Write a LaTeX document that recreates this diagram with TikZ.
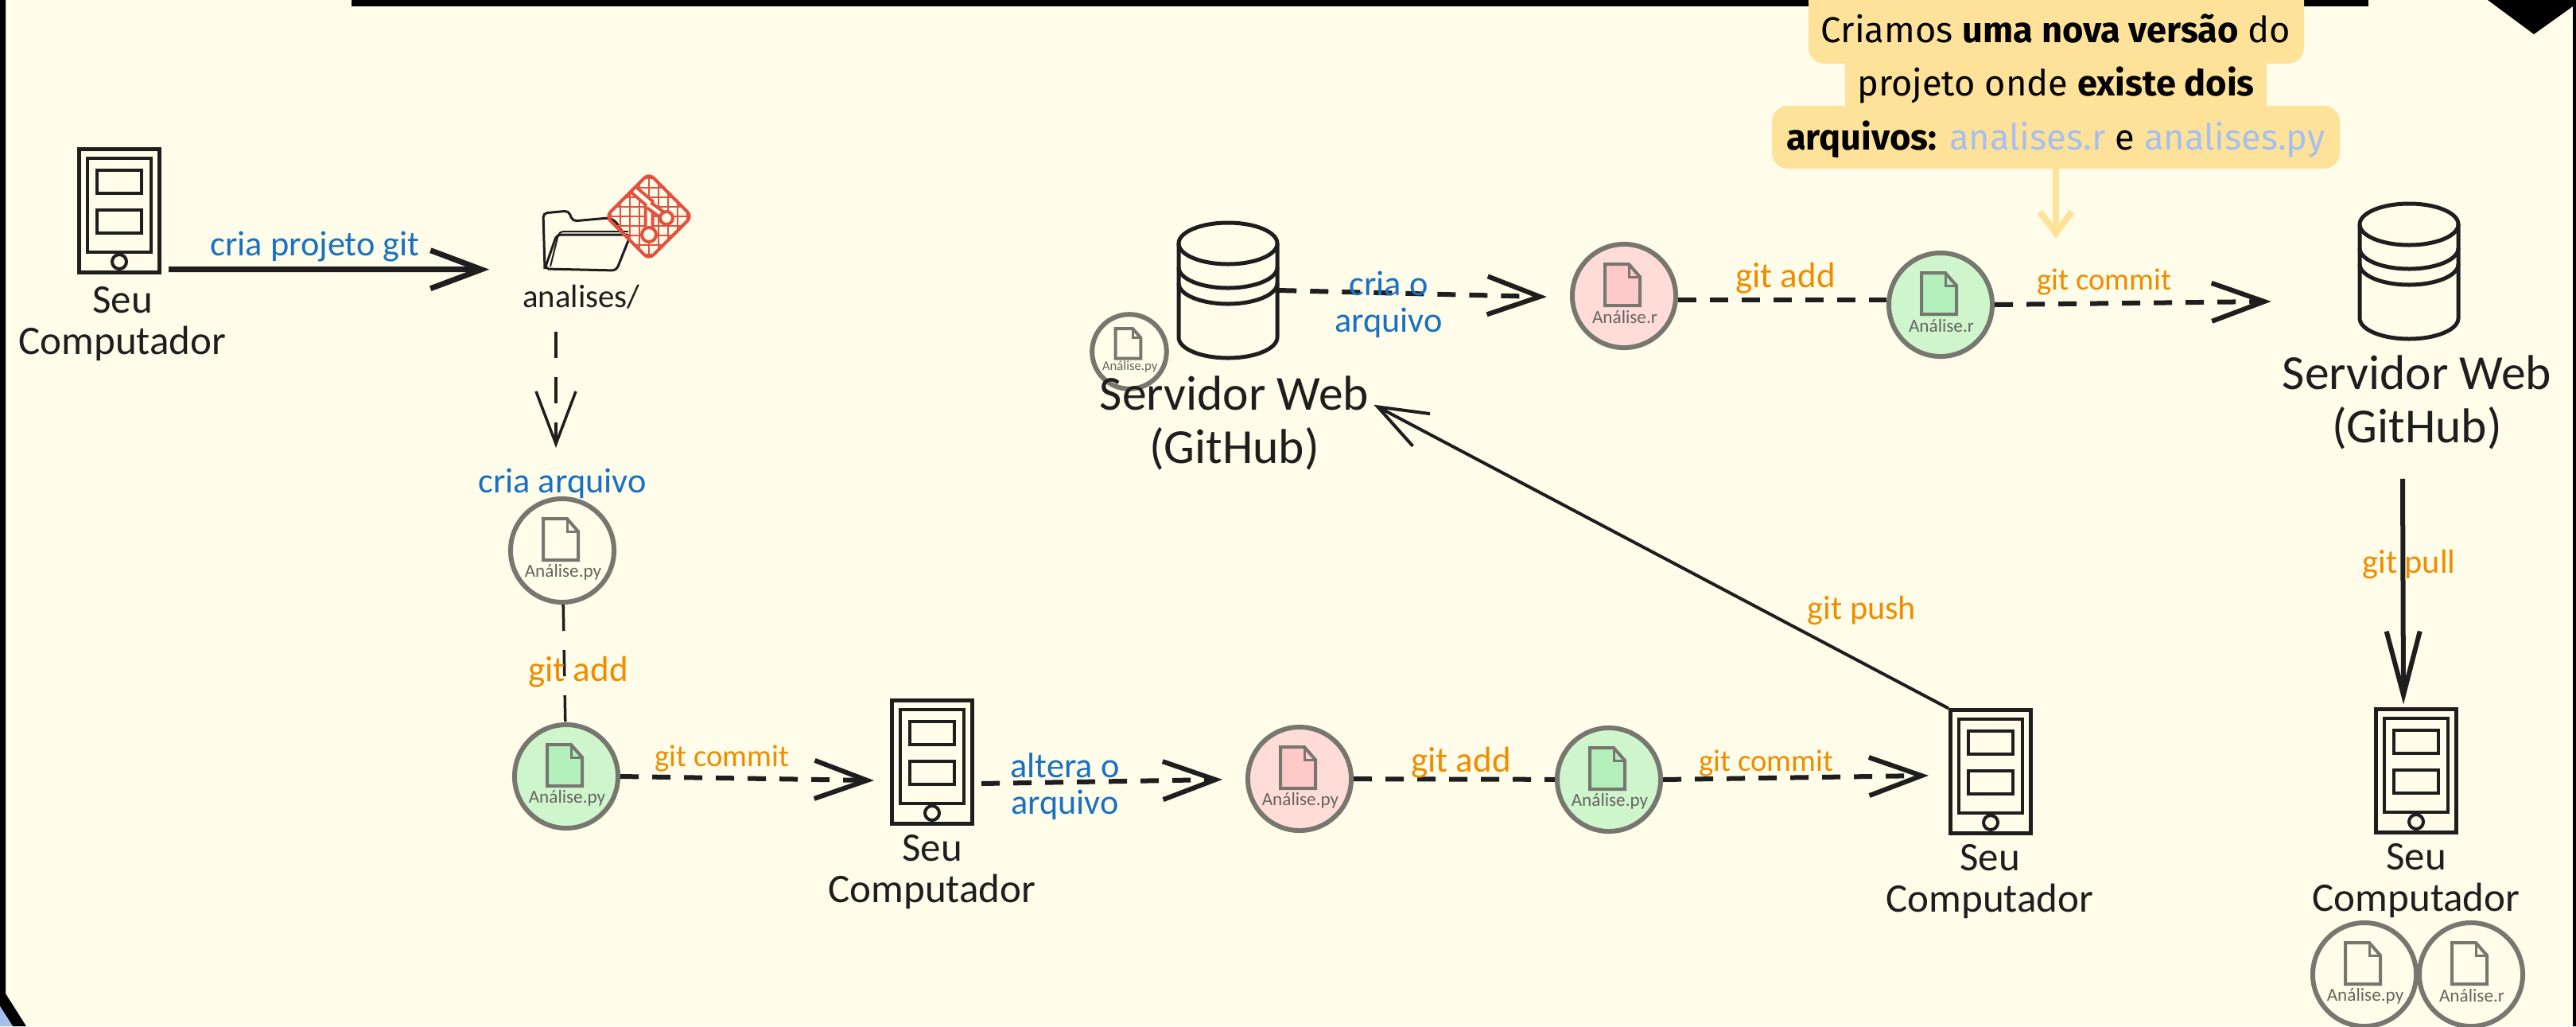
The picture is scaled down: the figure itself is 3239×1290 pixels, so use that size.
\documentclass[tikz,border=0pt]{standalone}
\usepackage{fontspec}
\setmainfont{Carlito}
\newfontfamily\notefont{Fira Sans}
\usepackage{tikz}
\usetikzlibrary{arrows.meta,calc}
\definecolor{paperbg}{HTML}{FFFDE9}
\definecolor{inkblack}{HTML}{1E1E1E}
\definecolor{badgegrey}{HTML}{777770}
\definecolor{labelblue}{HTML}{1971C2}
\definecolor{labelorange}{HTML}{F08C00}
\definecolor{notebg}{HTML}{FFE299}
\definecolor{noteblue}{HTML}{A5C0EE}
\definecolor{gitred}{HTML}{E0513F}
\definecolor{greenback}{HTML}{CFF5CD}
\definecolor{greenicon}{HTML}{B4F0BC}
\definecolor{redback}{HTML}{FFDCD8}
\definecolor{redicon}{HTML}{FFC9C9}
\tikzset{
   handtext/.style={text=inkblack,align=center,inner sep=0pt,font=\fontsize{14.5}{15}\selectfont},
   bigtext/.style={text=inkblack,align=center,inner sep=0pt,font=\fontsize{17.5}{19}\selectfont},
   smalltext/.style={text=inkblack,inner sep=0pt,font=\fontsize{11.6}{12}\selectfont},
   bluetext/.style={text=labelblue,align=center,inner sep=0pt,font=\fontsize{12.6}{13}\selectfont},
   orangetext/.style={text=labelorange,inner sep=0pt,font=\fontsize{#1}{12}\selectfont},
   solidlink/.style={draw=inkblack,line width=0.07cm,shorten >=-0.06cm,-{Straight Barb[length=0.64cm,width=0.48cm]}},
   dashlink/.style={draw=inkblack,line width=0.06cm,dash pattern=on 0.23cm off 0.17cm,shorten >=-0.06cm,-{Straight Barb[length=0.66cm,width=0.48cm]}},
   dashplain/.style={draw=inkblack,line width=0.06cm,dash pattern=on 0.23cm off 0.17cm},
   thindash/.style={draw=inkblack,line width=0.035cm,dash pattern=on 0.33cm off 0.24cm},
   pics/device/.style={code={
      \node[draw=inkblack,line width=0.05cm,minimum width=1.01cm,minimum height=1.54cm,inner sep=0pt] (-body) at (0,0) {};
      \draw[inkblack,line width=0.04cm] (-40,-66) rectangle (40,52);
      \draw[inkblack,line width=0.04cm] (-28,-51) rectangle (28,-22);
      \draw[inkblack,line width=0.04cm] (-28,-1) rectangle (28,28);
      \draw[inkblack,line width=0.04cm] (0,64) circle (9);
   }},
   pics/server/.style={code={
      \node[minimum width=1.25cm,minimum height=1.7cm,inner sep=0pt] (-body) at (0,0) {};
      \draw[inkblack,line width=0.05cm] (0,-59) ellipse (62 and 26);
      \draw[inkblack,line width=0.05cm] (-62,-59) -- (-62,59) arc (180:0:62 and 26) -- (62,-59);
      \draw[inkblack,line width=0.05cm] (-62,-29) arc (180:0:62 and 26);
      \draw[inkblack,line width=0.05cm] (-62,-9) arc (180:0:62 and 26);
   }},
   pics/filebadge/.style n args={3}{code={
      \node[circle,draw=badgegrey,fill=#1,line width=0.06cm,minimum size=1.3cm,inner sep=0pt] (-ring) at (0,0) {};
      \draw[badgegrey,fill=#2,line width=0.04cm] (-24,-40) -- (6,-40) -- (20,-24) -- (20,12) -- (-24,12) -- cycle;
      \draw[badgegrey,line width=0.03cm] (6,-40) -- (6,-24) -- (20,-24);
      \node[transform shape,text=badgegrey!85!black,inner sep=0pt,font=\fontsize{6.6}{7}\selectfont] (-name) at (1,27) {#3};
   }}
}
\begin{document}
\begin{tikzpicture}[x=0.01cm,y=-0.01cm]
   \useasboundingbox (0,0) rectangle (3239,1290);
   \fill[paperbg] (0,0) rectangle (3239,1290);
   \fill[black] (442,0) rectangle (2978,8);
   \fill[black] (0,0) -- (7,0) -- (7,1249) -- (33,1290) -- (16,1290) -- (0,1265) -- cycle;
   \fill[noteblue] (0,1265) -- (16,1290) -- (0,1290) -- cycle;
   \fill[black] (3128,0) -- (3186,43) -- (3235,8) -- (3235,1290) -- (3239,1290) -- (3239,0) -- cycle;

   \fill[notebg,rounded corners=0.2cm] (2274,-20) rectangle (2897,80);
   \fill[notebg] (2320,70) rectangle (2850,145);
   \fill[notebg,rounded corners=0.2cm] (2228,133) rectangle (2942,212);
   \node[align=center,inner sep=0pt,font=\notefont\fontsize{12.85}{19.3}\selectfont] (note) at (2585,108)
      {Criamos \textbf{uma nova versão} do\\projeto onde \textbf{existe dois}\\\textbf{arquivos:} \textcolor{noteblue}{analises.r} e \textcolor{noteblue}{analises.py}};

   \pic (pcA) at (150,265) {device};
   \pic (pcB) at (1172,958) {device};
   \pic (pcC) at (2503,970) {device};
   \pic (pcD) at (3038,969) {device};
   \node[handtext] (pcAtext) at (154,407) {Seu\\Computador};
   \node[handtext] (pcBtext) at (1172,1096) {Seu\\Computador};
   \node[handtext] (pcCtext) at (2502,1108) {Seu\\Computador};
   \node[handtext] (pcDtext) at (3038,1107) {Seu\\Computador};

   \node[minimum width=1.12cm,minimum height=0.78cm,inner sep=0pt] (folder) at (738,302) {};
   \draw[inkblack,line width=0.03cm,rounded corners=0.05cm] (685,338) -- (683,268) -- (715,265) -- (720,278) -- (765,274) -- (773,277) -- (783,292);
   \draw[inkblack,line width=0.03cm,rounded corners=0.05cm] (685,338) -- (700,295) -- (793,295) -- (775,340) -- cycle;
   \draw[inkblack,line width=0.02cm,rounded corners=0.05cm] (692,335) -- (703,291) -- (790,291);
   \node[smalltext] (foldertext) at (731,373) {analises/};
   \begin{scope}
      \clip[rounded corners=0.08cm] (816,218) -- (870,272) -- (816,326) -- (762,272) -- cycle;
      \foreach \k in {-48,-36,...,48} {
         \draw[gitred,line width=0.02cm] (816+\k,210) -- (816+\k,330);
         \draw[gitred,line width=0.02cm] (755,272+\k) -- (875,272+\k);
      }
      \draw[gitred,line width=0.04cm,double=paperbg,double distance=0.05cm] (795,237) -- (816,255) -- (816,295);
      \draw[gitred,line width=0.04cm,double=paperbg,double distance=0.04cm] (816,258) -- (838,274);
      \fill[paperbg,draw=gitred,line width=0.04cm] (816,295) circle (9);
      \fill[paperbg,draw=gitred,line width=0.04cm] (838,274) circle (8);
   \end{scope}
   \draw[gitred,line width=0.04cm,rounded corners=0.08cm] (816,218) -- (870,272) -- (816,326) -- (762,272) -- cycle;

   \pic (pyGrey) at (707,692) {filebadge={paperbg}{paperbg}{Análise.py}};
   \pic (pyGreenA) at (712,976) {filebadge={greenback}{greenicon}{Análise.py}};
   \pic (pyRed) at (1634,979) {filebadge={redback}{redicon}{Análise.py}};
   \pic (pyGreenB) at (2023,980) {filebadge={greenback}{greenicon}{Análise.py}};
   \pic (rRed) at (2042,372) {filebadge={redback}{redicon}{Análise.r}};
   \pic (rGreen) at (2440,383) {filebadge={greenback}{greenicon}{Análise.r}};
   \pic (pyEnd) at (2973,1225) {filebadge={paperbg}{paperbg}{Análise.py}};
   \pic (rEnd) at (3107,1225) {filebadge={paperbg}{paperbg}{Análise.r}};
   \pic[scale=0.72,transform shape] (pySmall) at (1420,442) {filebadge={paperbg}{paperbg}{Análise.py}};

   \pic (webA) at (1544,365) {server};
   \pic (webB) at (3029,341) {server};
   \node[bigtext] (webAtext) at (1552,532) {Servidor Web\\(GitHub)};
   \node[bigtext] (webBtext) at (3039,506) {Servidor Web\\(GitHub)};

   \draw[solidlink] ($(pcA-body.south east)+(9,-6)$) -- ($(folder.south west)+(-72,-3)$);
   \draw[thindash,shorten >=-0.06cm,-{Straight Barb[length=0.66cm,width=0.5cm]}] ($(folder.south)+(-39,75)$) -- ($(pyGrey-ring.north)+(-8,-67)$);
   \draw[thindash] (pyGrey-ring) -- (pyGreenA-ring);
   \draw[dashlink] (pyGreenA-ring.east) -- ($(pcB-body.west)+(-26,23)$);
   \draw[dashlink] ($(pcB-body.east)+(9,27)$) -- ($(pyRed-ring.west)+(-35,1)$);
   \draw[dashplain] (pyRed-ring) -- (pyGreenB-ring);
   \draw[dashlink] (pyGreenB-ring.east) -- ($(pcC-body.west)+(-31,5)$);
   \draw[inkblack,line width=0.04cm,-{Straight Barb[length=0.62cm,width=0.46cm]}] (pcC-body.north west) -- ($(webA-body.south east)+(120,58)$);
   \draw[dashlink] (webA-body.east) -- ($(rRed-ring.west)+(-35,1)$);
   \draw[dashplain] ($(rRed-ring.east)+(0,5)$) -- ($(rGreen-ring.west)+(0,-6)$);
   \draw[dashlink] (rGreen-ring.east) -- ($(webB-body.west)+(-116,38)$);
   \draw[inkblack,line width=0.06cm,shorten >=-0.06cm,-{Straight Barb[length=0.8cm,width=0.42cm]}] ($(webBtext.south)+(-18,36)$) -- ($(pcD-body.north)+(-16,-10)$);
   \draw[notebg,line width=0.08cm,shorten >=-0.06cm,-{Straight Barb[length=0.27cm,width=0.4cm]}] (note.south |- 2585,212) -- ($(rGreen-ring.north)+(145,-21)$);

   \node[bluetext] (projtext) at (396,310) {cria projeto git};
   \node[bluetext] (newtext) at (707,608) {cria arquivo};
   \node[bluetext] (changetext) at (1339,989) {altera o\\arquivo};
   \node[bluetext] (createtext) at (1746,383) {cria o\\arquivo};
   \node[orangetext=12.8] (addA) at (727,845) {git add};
   \node[orangetext=11] (commitA) at (908,953) {git commit};
   \node[orangetext=12.8] (addB) at (1837,959) {git add};
   \node[orangetext=11] (commitB) at (2221,959) {git commit};
   \node[orangetext=12] (pushtext) at (2341,767) {git push};
   \node[orangetext=12.8] (addC) at (2245,350) {git add};
   \node[orangetext=11] (commitC) at (2646,355) {git commit};
   \node[orangetext=12] (pulltext) at (3029,709) {git pull};
\end{tikzpicture}
\end{document}
